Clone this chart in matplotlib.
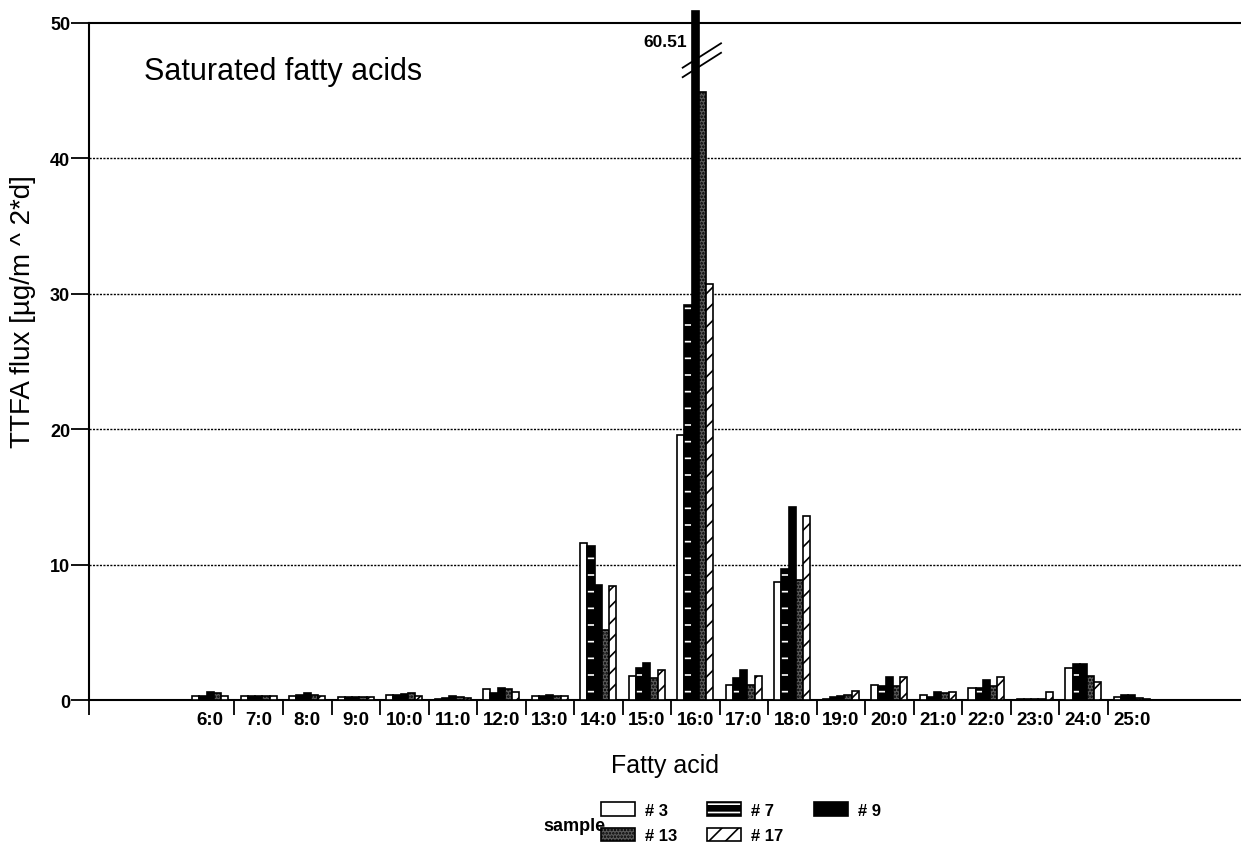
import numpy as np
import matplotlib
matplotlib.use("Agg")
import matplotlib.pyplot as plt
from matplotlib.patches import Patch

plt.rcParams['font.family'] = ['Liberation Sans', 'DejaVu Sans']
plt.rcParams['hatch.linewidth'] = 1.2

# data
acids = ['6:0', '7:0', '8:0', '9:0', '10:0', '11:0', '12:0', '13:0', '14:0', '15:0',
         '16:0', '17:0', '18:0', '19:0', '20:0', '21:0', '22:0', '23:0', '24:0', '25:0']
samples = ['# 3', '# 7', '# 9', '# 13', '# 17']
s3 = [0.3, 0.3, 0.3, 0.25, 0.4, 0.1, 0.85, 0.3, 11.6, 1.8, 19.6, 1.1, 8.7, 0.1, 1.1, 0.4, 0.9, 0.1, 2.35, 0.2]
s7 = [0.3, 0.3, 0.4, 0.25, 0.4, 0.15, 0.55, 0.3, 11.4, 2.4, 29.2, 1.6, 9.7, 0.2, 1.0, 0.2, 0.9, 0.1, 2.65, 0.4]
s9 = [0.6, 0.3, 0.55, 0.25, 0.45, 0.3, 0.9, 0.35, 8.5, 2.7, 60.51, 2.2, 14.25, 0.3, 1.7, 0.6, 1.5, 0.1, 2.65, 0.4]
s13 = [0.5, 0.3, 0.4, 0.25, 0.5, 0.2, 0.8, 0.3, 5.2, 1.6, 44.9, 1.1, 8.9, 0.4, 1.0, 0.5, 1.0, 0.1, 1.75, 0.15]
s17 = [0.3, 0.3, 0.3, 0.25, 0.3, 0.15, 0.6, 0.3, 8.4, 2.2, 30.7, 1.8, 13.6, 0.65, 1.7, 0.6, 1.7, 0.6, 1.35, 0.1]
series = [s3, s7, s9, s13, s17]

styles = [
    dict(facecolor='white', hatch=None),
    dict(facecolor='black', hatch='-', hatchwhite=True),
    dict(facecolor='black', hatch=None),
    dict(facecolor='#5a5a5a', hatch='.....'),
    dict(facecolor='white', hatch='//'),
]

ymax = 50
fig = plt.figure(figsize=(12.41, 8.45), dpi=100)
ax = fig.add_axes([0.0717, 0.1704, 0.9283, 0.8012])

x = np.arange(len(acids))
w = 0.149
handles = []
for i, (vals, st) in enumerate(zip(series, styles)):
    vals = np.array(vals)
    shown = np.minimum(vals, ymax + 0.9)
    xs = x + (i - 2) * w
    if st.get('hatchwhite'):
        ax.bar(xs, shown, w, facecolor='black', edgecolor='white', hatch='-', linewidth=0, zorder=3, clip_on=False)
        ax.bar(xs, shown, w, fill=False, edgecolor='black', linewidth=1.2, zorder=4, clip_on=False)
        handles.append((Patch(facecolor='black', edgecolor='white', hatch='--', linewidth=0),
                        Patch(fill=False, edgecolor='black', linewidth=1.2)))
    else:
        ax.bar(xs, shown, w, facecolor=st['facecolor'], edgecolor='black', hatch=st['hatch'],
               linewidth=1.2, zorder=3, clip_on=False)
        handles.append(Patch(facecolor=st['facecolor'], edgecolor='black', hatch=st['hatch'], linewidth=1.2))

# axis break on the tallest bar
big = int(np.argmax(s9))
bx = x[big]
for dy in (0, 0.7):
    ax.plot([bx - 0.26, bx + 0.53], [46.0 + dy, 47.8 + dy], color='black', lw=1.3, zorder=6, clip_on=False)
ax.text(bx - 0.17, 48.6, f'{max(s9):.2f}', ha='right', va='center', fontsize=12.5, fontweight='bold')

ax.set_xlim(-2.5, 21.25)
ax.set_ylim(0, ymax)
ax.set_yticks(range(0, 51, 10))
for yv in range(10, 50, 10):
    ax.axhline(yv, color='black', lw=1.0, ls=(0, (1.5, 1.0)), zorder=1)

ax.set_xticks(x)
ax.set_xticklabels(acids, fontsize=13.5, fontweight='bold')
ax.set_xticks(np.concatenate([[-2.5], x[:-1] + 0.5]), minor=True)
ax.tick_params(axis='x', which='major', length=0, pad=8)
ax.tick_params(axis='x', which='minor', length=11, width=1.3, direction='out')
ax.tick_params(axis='y', length=13, width=1.3, direction='out', labelsize=13, pad=0.5)
for lab in ax.get_yticklabels():
    lab.set_fontweight('bold')

for s in ['left', 'bottom', 'top']:
    ax.spines[s].set_linewidth(1.5)
ax.spines['right'].set_visible(False)

ax.text(0.048, 0.929, 'Saturated fatty acids', transform=ax.transAxes, fontsize=22, va='center')
ax.set_ylabel('TTFA flux [µg/m ^ 2*d]', fontsize=20)
ax.yaxis.set_label_coords(-0.046, 0.575)
ax.set_xlabel('Fatty acid', fontsize=18, labelpad=18)

order = [0, 3, 1, 4, 2]
leg = fig.legend([handles[j] for j in order], [samples[j] for j in order], ncol=3,
                 loc='center', bbox_to_anchor=(0.597, 0.0254), frameon=False,
                 handlelength=2.05, handleheight=0.9, columnspacing=1.8, handletextpad=0.6,
                 labelspacing=0.6, prop={'weight': 'bold', 'size': 12})
fig.text(0.4625, 0.022, 'sample', fontsize=13, fontweight='bold', va='center', ha='center')

fig.savefig('out.png', dpi=100)
